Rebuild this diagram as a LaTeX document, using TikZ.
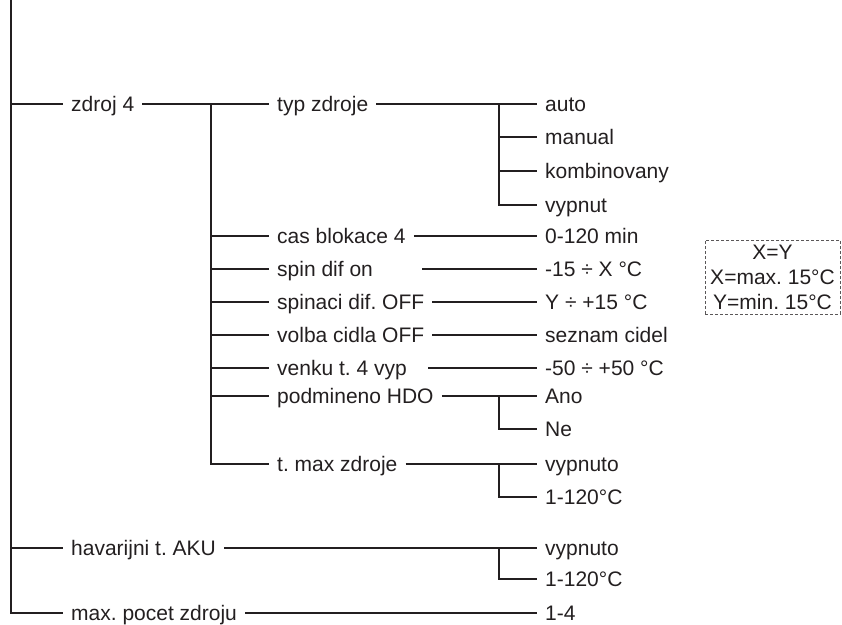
\documentclass[tikz,border=0pt]{standalone}
\usepackage{fontspec}
\setmainfont{Liberation Sans}
\usetikzlibrary{positioning}
\definecolor{ink}{HTML}{231F20}
\frenchspacing

\begin{document}
\begin{tikzpicture}[x=1pt, y=-1pt,
    lbl/.style={anchor=west, inner xsep=8pt, inner ysep=0pt, text height=15pt, text depth=0pt, font=\fontsize{21}{25}\selectfont, text=ink},
    ln/.style={draw=ink, line width=2.2pt},
    note/.style={draw=ink!75, dash pattern=on 3pt off 2pt, line width=0.9pt, align=center, inner sep=0pt, minimum width=135pt, minimum height=74pt, font=\fontsize{21}{25}\selectfont, text=ink}
]
\useasboundingbox (0,0) rectangle (842,624);

\node[lbl] (zdroj) at (63,104) {zdroj 4};
\node[lbl] (havar) at (63,548) {havarijni t. AKU};
\node[lbl] (pocet) at (63,613) {max. pocet zdroju};

\node[lbl] (typ) at (269,104) {typ zdroje};
\node[lbl] (cas) at (269,236) {cas blokace 4};
\node[lbl] (spin) at (269,269) {spin dif on};
\node[lbl] (spinoff) at (269,302) {spinaci dif. OFF};
\node[lbl] (volba) at (269,335) {volba cidla OFF};
\node[lbl] (venku) at (269,368) {venku t. 4 vyp};
\node[lbl] (hdo) at (269,396) {podmineno HDO};
\node[lbl] (tmax) at (269,464) {t. max zdroje};

\node[lbl] (auto) at (537,104) {auto};
\node[lbl] (manual) at (537,137) {manual};
\node[lbl] (komb) at (537,171) {kombinovany};
\node[lbl] (vypnut) at (537,205) {vypnut};
\node[lbl] (min) at (537,236) {0-120 min};
\node[lbl] (xval) at (537,269) {-15 ÷ X °C};
\node[lbl] (yval) at (537,302) {Y ÷ +15 °C};
\node[lbl] (seznam) at (537,335) {seznam cidel};
\node[lbl] (venkuv) at (537,368) {-50 ÷ +50 °C};
\node[lbl] (ano) at (537,396) {Ano};
\node[lbl] (ne) at (537,429) {Ne};
\node[lbl] (tvyp) at (537,464) {vypnuto};
\node[lbl] (trange) at (537,497) {1-120°C};
\node[lbl] (hvyp) at (537,548) {vypnuto};
\node[lbl] (hrange) at (537,579) {1-120°C};
\node[lbl] (pocetv) at (537,613) {1-4};

\node[note] (pozn) at (772.5,277) {X=Y\\X=max. 15°C\\Y=min. 15°C};

\coordinate (koren) at (11,0);
\coordinate (vetev) at (211,104);
\coordinate (typv) at (499,104);
\coordinate (spinz) at (422,269);
\coordinate (venkuz) at (428,368);

\draw[ln] (koren) |- (pocet.west);
\draw[ln] (koren |- zdroj.west) -- (zdroj.west);
\draw[ln] (koren |- havar.west) -- (havar.west);

\draw[ln] (zdroj.east) -- (typ.west);
\draw[ln] (vetev) |- (tmax.west);
\foreach \n in {cas,spin,spinoff,volba,venku,hdo}
    \draw[ln] (vetev |- \n.west) -- (\n.west);

\draw[ln] (typ.east) -- (auto.west);
\draw[ln] (typv) |- (vypnut.west);
\draw[ln] (typv |- manual.west) -- (manual.west);
\draw[ln] (typv |- komb.west) -- (komb.west);

\draw[ln] (cas.east) -- (min.west);
\draw[ln] (spinz) -- (xval.west);
\draw[ln] (spinoff.east) -- (yval.west);
\draw[ln] (volba.east) -- (seznam.west);
\draw[ln] (venkuz) -- (venkuv.west);

\draw[ln] (hdo.east) -- (ano.west);
\draw[ln] (typv |- ano.west) |- (ne.west);
\draw[ln] (tmax.east) -- (tvyp.west);
\draw[ln] (typv |- tvyp.west) |- (trange.west);

\draw[ln] (havar.east) -- (hvyp.west);
\draw[ln] (typv |- hvyp.west) |- (hrange.west);
\draw[ln] (pocet.east) -- (pocetv.west);
\end{tikzpicture}
\end{document}
